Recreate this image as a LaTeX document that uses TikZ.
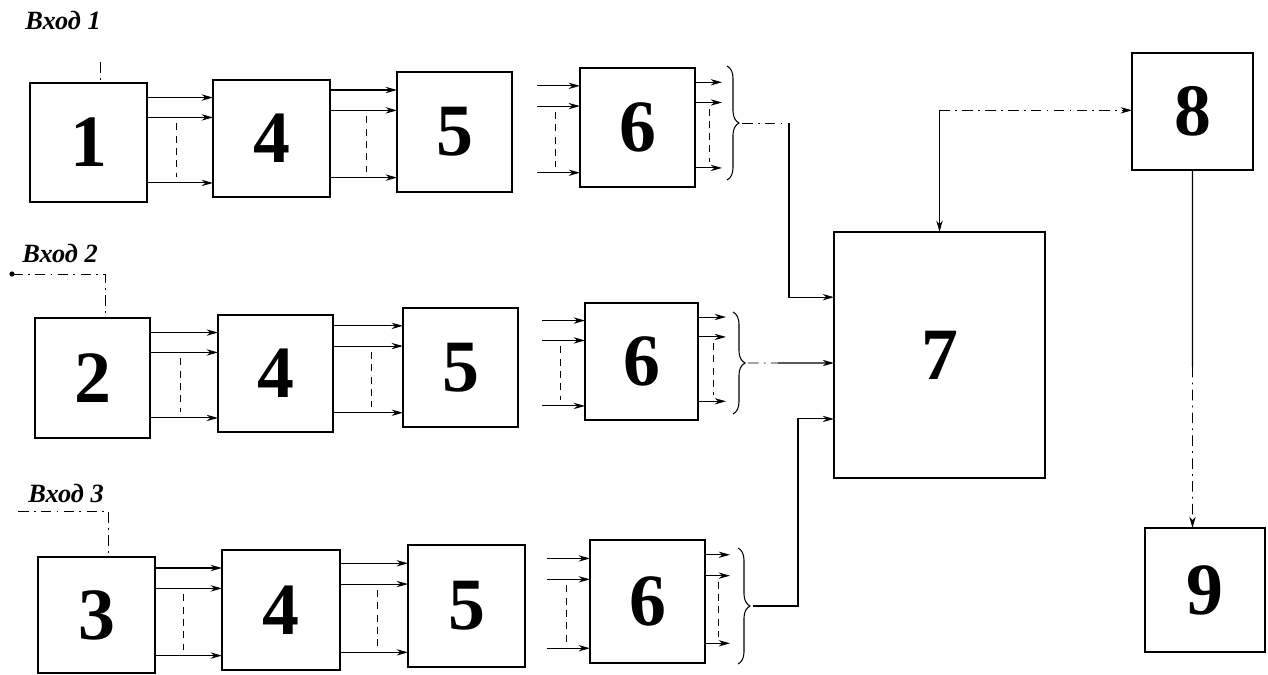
\documentclass[tikz,border=0pt]{standalone}
\usepackage{fontspec}
\setmainfont{Liberation Serif}
\usetikzlibrary{calc,arrows.meta,decorations.pathreplacing}

\newcommand{\blk}[6]{%
  \node[blk,minimum width={(#4-#2)*0.02cm},minimum height={(#5-#3)*0.02cm}]
    (#1) at ({(#2+#4)/2},{(#3+#5)/2}) {#6};}

% bus of three parallel lines from x of #1 into west side of #2, dashed link at fraction #3
\newcommand{\bus}[3]{%
  \foreach \f [count=\i] in {0.15,0.32,0.88}{%
    \coordinate (#2-in\i) at ($(#2.north west)!\f!(#2.south west)$);
    \draw[sig] (#1 |- #2-in\i) -- (#2-in\i);
  }
  \draw[buslink] ($(#1 |- #2-in2)!#3!(#2-in2)+(0,6)$) -- ($(#1 |- #2-in3)!#3!(#2-in3)+(0,-6)$);
}

% three outputs from east of #1 to the brace at x of #2
\newcommand{\outs}[2]{%
  \foreach \f [count=\i] in {0.12,0.29,0.84}{%
    \coordinate (#1-out\i) at ($(#1.north east)!\f!(#1.south east)$);
    \draw[sig] (#1-out\i) -- (#2 |- #1-out\i);
  }
  \draw[buslink] ($(#1-out2)!0.55!(#2 |- #1-out2)+(0,6)$) -- ($(#1-out3)!0.55!(#2 |- #1-out3)+(0,-6)$);
}

\begin{document}
\begin{tikzpicture}[x=0.02cm,y=-0.02cm,
  blk/.style={draw,line width=1.6pt,inner sep=0pt,outer sep=0pt,
              font=\fontsize{42}{46}\selectfont\bfseries},
  tip/.tip={Stealth[length=6.5pt,width=3.6pt]},
  sig/.style={line width=0.6pt,-tip},
  plain/.style={line width=0.6pt},
  buslink/.style={line width=0.5pt,dash pattern=on 4pt off 3pt},
  inp/.style={line width=0.5pt,dash pattern=on 6pt off 3pt on 1pt off 3pt},
  brc/.style={line width=0.6pt,decorate,decoration={brace,amplitude=0.24cm}},
  lbl/.style={font=\fontsize{15}{17}\selectfont\bfseries\itshape,inner sep=0pt,anchor=base west}]
\useasboundingbox (0,0) rectangle (1268,675);

% ---- blocks
\blk{b1}{30}{83}{147}{202}{1}
\blk{b4a}{213}{80}{330}{197}{4}
\blk{b5a}{397}{72}{512}{192}{5}
\blk{b6a}{580}{68}{695}{187}{6}

\blk{b2}{35}{318}{150}{438}{2}
\blk{b4b}{218}{315}{333}{432}{4}
\blk{b5b}{403}{308}{518}{427}{5}
\blk{b6b}{585}{303}{698}{420}{6}

\blk{b3}{38}{557}{155}{673}{3}
\blk{b4c}{222}{550}{340}{670}{4}
\blk{b5c}{408}{545}{525}{667}{5}
\blk{b6c}{590}{540}{705}{663}{6}

\blk{b7}{834}{232}{1045}{478}{7}
\blk{b8}{1132}{53}{1253}{170}{8}
\blk{b9}{1145}{528}{1265}{652}{9}

% ---- input labels
\node[lbl] (v1) at (25,30) {Вход 1};
\node[lbl] (v2) at (22,263) {Вход 2};
\node[lbl] (v3) at (28,502) {Вход 3};

\coordinate (i1) at (100,62);
\draw[inp] (i1) -- (i1 |- b1.north);
\coordinate (i2) at (12,274);
\fill (i2) circle (2.6);
\draw[inp] (i2) -| ($(b2.north west)+(70,0)$);
\coordinate (i3) at (18,511);
\draw[inp] (i3) -| ($(b3.north west)+(70,0)$);

% ---- buses, row 1
\bus{b1.east}{b4a}{0.45}
\bus{b4a.east}{b5a}{0.55}
\coordinate (g1) at ($(b6a.west)+(-43,0)$);
\bus{g1}{b6a}{0.42}
\coordinate (br1) at (722,0);
\outs{b6a}{br1}

% ---- buses, row 2
\bus{b2.east}{b4b}{0.45}
\bus{b4b.east}{b5b}{0.55}
\coordinate (g2) at ($(b6b.west)+(-43,0)$);
\bus{g2}{b6b}{0.42}
\coordinate (br2) at (726,0);
\outs{b6b}{br2}

% ---- buses, row 3
\bus{b3.east}{b4c}{0.42}
\bus{b4c.east}{b5c}{0.55}
\coordinate (g3) at ($(b6c.west)+(-43,0)$);
\bus{g3}{b6c}{0.45}
\coordinate (br3) at (730,0);
\outs{b6c}{br3}

% ---- braces
\draw[brc] (727,66) -- (727,180) coordinate[pos=0.5] (m1);
\draw[brc] (733,312) -- (733,414) coordinate[pos=0.5] (m2);
\draw[brc] (738,548) -- (738,664) coordinate[pos=0.5] (m3);
\coordinate (t1) at ($(m1)+(15,0)$);
\coordinate (t2) at ($(m2)+(15,0)$);
\coordinate (t3) at ($(m3)+(15,0)$);

% ---- into block 7
\coordinate (k1) at (789,0);
\draw[inp] (t1) -- (t1 -| k1);
\coordinate (in7a) at ($(b7.north west)!0.265!(b7.south west)$);
\draw[sig] (t1 -| k1) |- (in7a);
\draw[inp] (t2) -- ($(t2)!0.35!(t2 -| b7.west)$);
\draw[sig] ($(t2)!0.35!(t2 -| b7.west)$) -- (t2 -| b7.west);
\coordinate (k3) at (798,0);
\coordinate (in7c) at ($(b7.north west)!0.76!(b7.south west)$);
\draw[sig] (t3) -| (k3 |- in7c) -- (in7c);

% ---- 7 <-> 8
\coordinate (in8) at ($(b8.north west)!0.49!(b8.south west)$);
\coordinate (c78) at (b7.north |- in8);
\draw[sig] (c78) -- (b7.north);
\draw[inp,-tip] (c78) -- (in8);

% ---- 8 -> 9
\coordinate (m89) at ($(b8.south)!0.55!(b8.south |- b9.north)$);
\draw[plain] (b8.south) -- (m89);
\draw[inp,-tip] (m89) -- (b8.south |- b9.north);
\end{tikzpicture}
\end{document}
